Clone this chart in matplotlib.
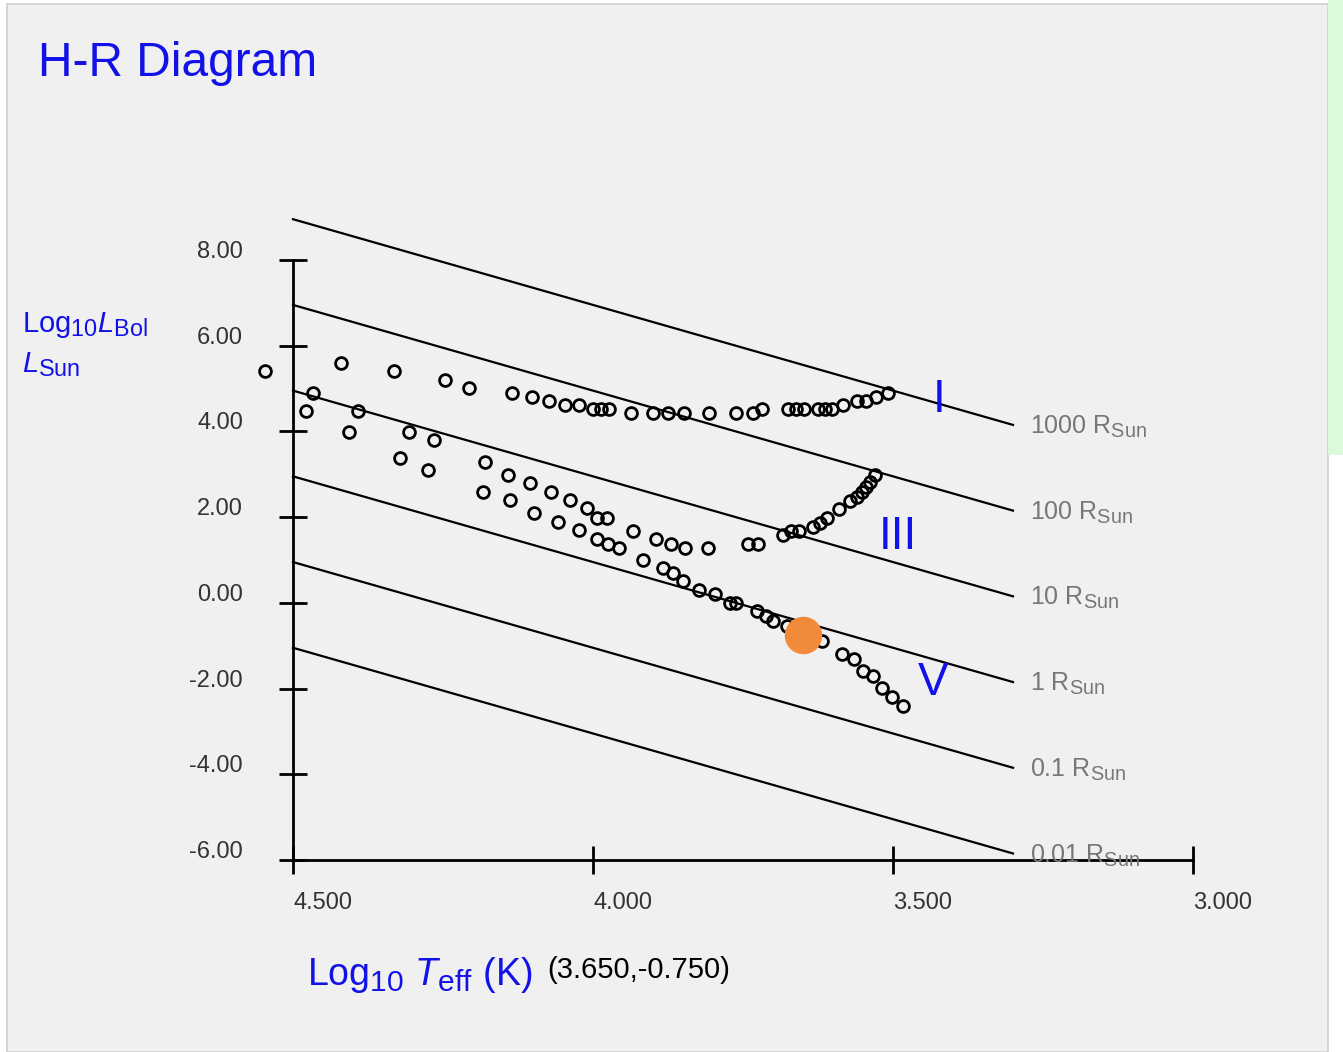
import numpy as np
import matplotlib.pyplot as plt
import matplotlib._mathtext as mathtext_internal
from matplotlib.patches import Rectangle

plt.rcParams['font.family'] = ['Liberation Sans', 'DejaVu Sans']
plt.rcParams['mathtext.fontset'] = 'custom'
plt.rcParams['mathtext.rm'] = 'Liberation Sans'
plt.rcParams['mathtext.it'] = 'Liberation Sans:italic'
# subscripts in the original are a bit larger than matplotlib's default
mathtext_internal.SHRINK_FACTOR = 0.8

# Data section ---------------------------------------------
# supergiants (I)
sg_logT = [4.547, 4.420, 4.332, 4.247, 4.207, 4.135, 4.102, 4.073, 4.047, 4.023,
           4.000, 3.987, 3.973, 3.937, 3.900, 3.875, 3.848, 3.807, 3.762, 3.733,
           3.718, 3.675, 3.662, 3.648, 3.625, 3.613, 3.602, 3.583, 3.560, 3.545,
           3.528, 3.508]
sg_logL = [5.41, 5.60, 5.41, 5.20, 5.01, 4.90, 4.80, 4.71, 4.62, 4.62,
           4.52, 4.52, 4.52, 4.43, 4.43, 4.43, 4.43, 4.43, 4.43, 4.43,
           4.52, 4.52, 4.52, 4.52, 4.52, 4.52, 4.52, 4.62, 4.71, 4.71,
           4.80, 4.90]

# giants (III)
gi_logT = [4.467, 4.478, 4.392, 4.407, 4.307, 4.265, 4.322, 4.275, 4.180, 4.142,
           4.105, 4.070, 4.038, 4.010, 3.993, 3.977, 3.933, 3.895, 3.870, 3.847,
           3.808, 3.742, 3.725, 3.683, 3.670, 3.657, 3.633, 3.622, 3.610, 3.590,
           3.572, 3.560, 3.552, 3.545, 3.538, 3.530]
gi_logL = [4.90, 4.48, 4.48, 3.99, 3.99, 3.80, 3.38, 3.10, 3.29, 2.98,
           2.80, 2.59, 2.40, 2.21, 1.98, 1.98, 1.68, 1.49, 1.37, 1.28,
           1.28, 1.37, 1.37, 1.58, 1.68, 1.68, 1.77, 1.86, 1.98, 2.19,
           2.38, 2.47, 2.59, 2.70, 2.82, 2.98]

# main sequence (V)
ms_logT = [4.183, 4.138, 4.098, 4.058, 4.023, 3.993, 3.975, 3.957, 3.917, 3.883,
           3.867, 3.850, 3.823, 3.797, 3.772, 3.762, 3.727, 3.712, 3.700, 3.677,
           3.618, 3.585, 3.565, 3.550, 3.533, 3.518, 3.502, 3.483]
ms_logL = [2.59, 2.40, 2.10, 1.89, 1.70, 1.49, 1.37, 1.28, 1.00, 0.81,
           0.70, 0.51, 0.30, 0.21, 0.00, 0.00, -0.19, -0.31, -0.42, -0.54,
           -0.89, -1.19, -1.31, -1.59, -1.71, -1.99, -2.20, -2.41]

sun_point = (3.650, -0.750)

radii = [1000, 100, 10, 1, 0.1, 0.01]
radius_labels = ['1000', '100', '10', '1', '0.1', '0.01']
logT_sun = 3.762
line_logT = [4.5, 3.3]

yticks = [8, 6, 4, 2, 0, -2, -4, -6]
xticks = [4.5, 4.0, 3.5, 3.0]

classes = ['I', 'III', 'V']
class_logT = [3.423, 3.492, 3.433]
class_logL = [4.73, 1.54, -1.87]

#Plot section ---------------------------------------------
blue = '#1212e8'
fig = plt.figure(figsize=(13.43, 10.52), dpi=100)
fig.patch.set_facecolor('white')
fig.patches.append(Rectangle((7/1343, 0), 1321/1343, 1048/1052, transform=fig.transFigure,
                             facecolor='#f0f0f0', edgecolor='#d0d0d0', lw=1.2, zorder=-10))
fig.patches.append(Rectangle((1328/1343, 1 - 455/1052), 15/1343, 455/1052, transform=fig.transFigure,
                             facecolor='#dcf9dc', edgecolor='none', zorder=-9))

ax = fig.add_axes([293/1343, 1 - 860/1052, 900/1343, 600/1052])
ax.set_facecolor('none')
ax.set_xlim(4.5, 3.0)
ax.set_ylim(-6, 8)

for s in ['top', 'right']:
    ax.spines[s].set_visible(False)
for s in ['left', 'bottom']:
    ax.spines[s].set_linewidth(2)

ax.set_xticks(xticks)
ax.set_yticks(yticks)
ax.tick_params(direction='inout', length=20, width=2, labelleft=False, labelbottom=False)

for v in yticks:
    ax.annotate('%.2f' % v, xy=(4.5, v), xytext=(-50, 8), textcoords='offset pixels',
                ha='right', va='center', fontsize=17, color='#333333', annotation_clip=False)
for v in xticks:
    ax.annotate('%.3f' % v, xy=(v, -6), xytext=(0, -43), textcoords='offset pixels',
                ha='left', va='center', fontsize=17, color='#333333', annotation_clip=False)

# constant radius lines
for r, lab in zip(radii, radius_labels):
    logL = [2 * np.log10(r) + 4 * (t - logT_sun) for t in line_logT]
    ax.plot(line_logT, logL, color='black', lw=1.6, clip_on=False, zorder=2)
    ax.annotate(lab + r' R$_{\mathrm{Sun}}$', xy=(line_logT[1], logL[1]), xytext=(17, -2),
                textcoords='offset pixels', ha='left', va='center', fontsize=18,
                color='#777777', annotation_clip=False)

for xs, ys in [(sg_logT, sg_logL), (gi_logT, gi_logL), (ms_logT, ms_logL)]:
    ax.plot(xs, ys, 'o', ms=8.5, mfc='none', mec='black', mew=2, clip_on=False, zorder=3)

ax.plot(sun_point[0], sun_point[1], 'o', ms=26, color='#f28a3c', clip_on=False, zorder=4)

for c, x, y in zip(classes, class_logT, class_logL):
    ax.text(x, y, c, color=blue, fontsize=33, ha='center', va='center', zorder=5)

fig.text(38/1343, 1 - 63/1052, 'H-R Diagram', color=blue, fontsize=34.5, ha='left', va='center')
fig.text(22/1343, 1 - 325/1052, r'Log$_{10}$$\mathit{L}_{\mathrm{Bol}}$', color=blue,
         fontsize=21, ha='left', va='center')
fig.text(22/1343, 1 - 365/1052, r'$\mathit{L}_{\mathrm{Sun}}$', color=blue,
         fontsize=21, ha='left', va='center')
fig.text(307/1343, 1 - 975/1052, r'Log$_{10}$ $\mathit{T}_{\mathrm{eff}}$ (K)', color=blue,
         fontsize=27, ha='left', va='center')
fig.text(547/1343, 1 - 970/1052, '(%.3f,%.3f)' % sun_point, color='black',
         fontsize=21, ha='left', va='center')

plt.savefig('out.png', dpi=100)
